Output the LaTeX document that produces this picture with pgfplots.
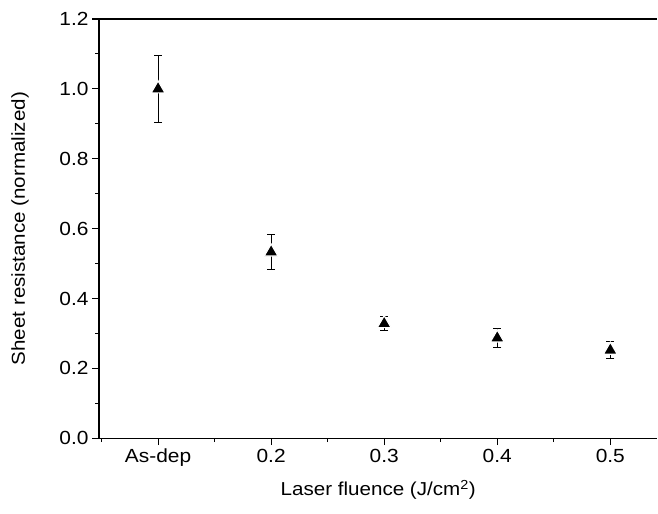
\documentclass[border=0pt]{standalone}
\usepackage{fontspec}
\setmainfont[FakeStretch=1.1]{Liberation Sans}
\usepackage{pgfplots}
\pgfplotsset{compat=1.18}
\begin{document}
\begin{tikzpicture}
\begin{axis}[
  scale only axis,
  width=558pt, height=419pt,
  xmin=-0.522, xmax=4.416,
  ymin=0, ymax=1.2,
  axis x line*=box,
  axis y line*=left,
  xtick pos=lower,
  ytick pos=left,
  xtick={0,1,2,3,4},
  xticklabels={As-dep,0.2,0.3,0.4,0.5},
  minor xtick={-0.5,0.5,1.5,2.5,3.5},
  ytick={0,0.2,0.4,0.6,0.8,1.0,1.2},
  minor ytick={0.1,0.3,0.5,0.7,0.9,1.1},
  tick align=outside,
  major tick length=7pt,
  minor tick length=4pt,
  every tick/.style={black, line width=1.1pt},
  axis line style={line width=1.3pt},
  yticklabel style={/pgf/number format/fixed, /pgf/number format/fixed zerofill, /pgf/number format/precision=1},
  /pgf/number format/assume math mode=true,
  ticklabel style={font=\fontsize{19}{22}\selectfont},
  xlabel={Laser fluence (J/cm\textsuperscript{2})},
  ylabel={Sheet resistance (normalized)},
  label style={font=\fontsize{18.7}{22}\selectfont},
  xlabel style={at={(axis description cs:0.5,-0.124)}, anchor=center},
  ylabel style={at={(axis description cs:-0.1416,0.5)}, anchor=center},
  clip=false,
]
\addplot[
  only marks,
  mark=triangle*,
  mark size=8pt,
  mark options={fill=black, draw=white, line width=1.2pt},
  error bars/.cd,
    y dir=both, y explicit,
    error bar style={black, line width=0.8pt},
    error mark options={rotate=90, mark size=4pt, line width=0.8pt, black},
] table[x=x, y=y, y error=e] {
x y e
0 1.000 0.095
1 0.533 0.050
2 0.328 0.020
3 0.287 0.026
4 0.252 0.024
};
\end{axis}
\path ([xshift=-99pt,yshift=-75pt]current axis.south west) rectangle ([yshift=19pt]current axis.north east);
\end{tikzpicture}
\end{document}
